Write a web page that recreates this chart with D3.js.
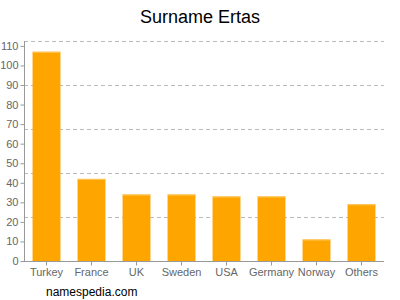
<!DOCTYPE html>
<html>
<head>
<meta charset="utf-8">
<script src="https://cdn.jsdelivr.net/npm/d3@7"></script>
<style>
  body { margin: 0; background: #fff; }
  svg { display: block; font-family: "Liberation Sans", Arial, sans-serif; }
</style>
</head>
<body>
<svg id="chart" width="400" height="300"></svg>
<script>
  const countries = ["Turkey", "France", "UK", "Sweden", "USA", "Germany", "Norway", "Others"];
  const counts = [107, 42, 34, 34, 33, 33, 11, 29];
  const yTicks = [0, 10, 20, 30, 40, 50, 60, 70, 80, 90, 100, 110];
  const gridValues = [22.5, 45, 67.5, 90, 112.5];

  const margin = { top: 41, right: 16, bottom: 39, left: 24 };
  const W = 400, H = 300;

  const svg = d3.select("#chart");

  const x = d3.scaleBand()
    .domain(countries)
    .range([margin.left, W - margin.right])
    .paddingInner(0.38)
    .paddingOuter(0.19);

  const y = d3.scaleLinear()
    .domain([0, 112.5])
    .range([H - margin.bottom, margin.top]);

  // dashed grid
  svg.append("g")
    .selectAll("line")
    .data(gridValues)
    .join("line")
    .attr("x1", margin.left)
    .attr("x2", W - margin.right)
    .attr("y1", (d) => Math.round(y(d)) + 0.5)
    .attr("y2", (d) => Math.round(y(d)) + 0.5)
    .attr("stroke", "#bbb")
    .attr("stroke-dasharray", "4,3");

  // bars
  const bars = svg.append("g");
  bars.selectAll("rect.bar")
    .data(countries)
    .join("rect")
    .attr("class", "bar")
    .attr("x", (d) => x(d))
    .attr("width", x.bandwidth())
    .attr("y", (d, i) => y(counts[i]))
    .attr("height", (d, i) => y(0) - y(counts[i]))
    .attr("fill", "#ffa500");

  bars.selectAll("rect.cap")
    .data(countries)
    .join("rect")
    .attr("class", "cap")
    .attr("x", (d) => x(d))
    .attr("width", x.bandwidth())
    .attr("y", (d, i) => y(counts[i]))
    .attr("height", 1)
    .attr("fill", "#ffc860");

  // y axis
  const yAxis = svg.append("g")
    .attr("transform", `translate(${margin.left + 0.5},0)`)
    .call(d3.axisLeft(y).tickValues(yTicks).tickSize(4).tickPadding(2));

  // x axis
  const xAxis = svg.append("g")
    .attr("transform", `translate(0,${H - margin.bottom + 0.5})`)
    .call(d3.axisBottom(x).tickSize(4).tickPadding(3));

  [yAxis, xAxis].forEach((g) => {
    g.select(".domain").attr("stroke", "#999");
    g.selectAll(".tick line").attr("stroke", "#999");
    g.selectAll(".tick text")
      .attr("fill", "#666")
      .style("font-size", "11px")
      .style("font-family", "'Liberation Sans', Arial, sans-serif");
  });
  yAxis.select(".domain").attr("d", `M0,${y(112.5)}V${y(0)}`);
  xAxis.select(".domain").attr("d", `M${margin.left},0H${W - margin.right}`);

  svg.append("text")
    .attr("x", 200)
    .attr("y", 23)
    .attr("text-anchor", "middle")
    .attr("font-size", 18)
    .attr("fill", "#000")
    .text("Surname Ertas");

  svg.append("text")
    .attr("x", 46)
    .attr("y", 296)
    .attr("font-size", 12)
    .attr("fill", "#000")
    .text("namespedia.com");
</script>
</body>
</html>
